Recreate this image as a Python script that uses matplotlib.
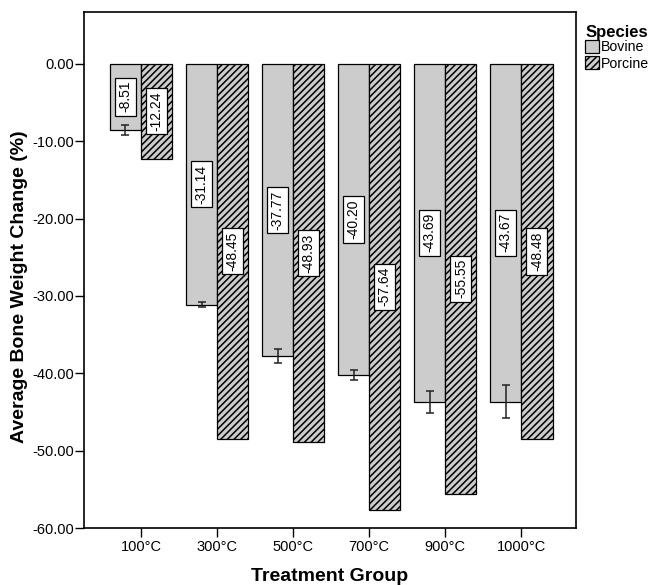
import matplotlib
matplotlib.use("Agg")
import matplotlib.pyplot as plt
import numpy as np
from matplotlib.patches import Patch

plt.rcParams['font.family'] = ['Liberation Sans', 'DejaVu Sans']
plt.rcParams['hatch.linewidth'] = 1.1

groups = ["100°C", "300°C", "500°C", "700°C", "900°C", "1000°C"]
bovine = [-8.51, -31.14, -37.77, -40.20, -43.69, -43.67]
porcine = [-12.24, -48.45, -48.93, -57.64, -55.55, -48.48]
bovine_err = [0.65, 0.3, 0.9, 0.65, 1.4, 2.1]
y_ticks = [0, -10, -20, -30, -40, -50, -60]

fig = plt.figure(figsize=(6.51, 5.85), dpi=100)
ax = fig.add_axes([0.129, 0.0974, 0.756, 0.8821])

x = np.arange(len(groups))
w = 0.41
fill = "#cccccc"

ax.bar(x - w / 2, bovine, width=w, color=fill, edgecolor="black",
       linewidth=0.9, zorder=2)
ax.bar(x + w / 2, porcine, width=w, color=fill, edgecolor="black",
       linewidth=0.9, hatch="/////", zorder=2)
ax.errorbar(x - w / 2, bovine, yerr=bovine_err, fmt="none", ecolor="#222222",
            elinewidth=1.1, capsize=3, capthick=1.1, zorder=3)

box = dict(boxstyle="square,pad=0.25", facecolor="white", edgecolor="black",
           linewidth=0.9)
for xi, v in zip(x - w / 2, bovine):
    ax.text(xi, v / 2, f"{v:.2f}", rotation=90, ha="center", va="center",
            fontsize=10, bbox=box, zorder=4)
for xi, v in zip(x + w / 2, porcine):
    ax.text(xi, v / 2, f"{v:.2f}", rotation=90, ha="center", va="center",
            fontsize=10, bbox=box, zorder=4)

ax.set_xlim(-0.75, 5.72)
ax.set_ylim(-60, 6.7)
ax.set_yticks(y_ticks)
ax.set_yticklabels([f"{t:.2f}" for t in y_ticks], fontsize=10.5)
ax.set_xticks(x)
ax.set_xticklabels(groups, fontsize=10.5)
ax.tick_params(axis="both", direction="out", length=6.3, width=1)
ax.tick_params(axis="y", pad=0.5)
ax.tick_params(axis="x", pad=2)
for s in ax.spines.values():
    s.set_linewidth(1.2)

ax.set_xlabel("Treatment Group", fontsize=14, fontweight="bold")
ax.xaxis.set_label_coords(0.5, -0.0775)
ax.set_ylabel("Average Bone Weight Change (%)", fontsize=14, fontweight="bold")
ax.yaxis.set_label_coords(-0.114, 0.467)

# legend: bold title placed as text, swatches below it
fig.text(586 / 651, 1 - 32 / 585, "Species", fontsize=12, fontweight="bold",
         ha="left", va="center")
handles = [Patch(facecolor=fill, edgecolor="black", linewidth=0.9),
           Patch(facecolor=fill, edgecolor="black", linewidth=0.9, hatch="/////")]
fig.legend(handles, ["Bovine", "Porcine"], loc="upper left",
           bbox_to_anchor=(585 / 651, 1 - 40 / 585),
           frameon=False, fontsize=10.2, handlelength=1.0,
           handleheight=1.0, handletextpad=0.15, labelspacing=0.15,
           borderaxespad=0, borderpad=0)

fig.savefig("out.png", dpi=100)
